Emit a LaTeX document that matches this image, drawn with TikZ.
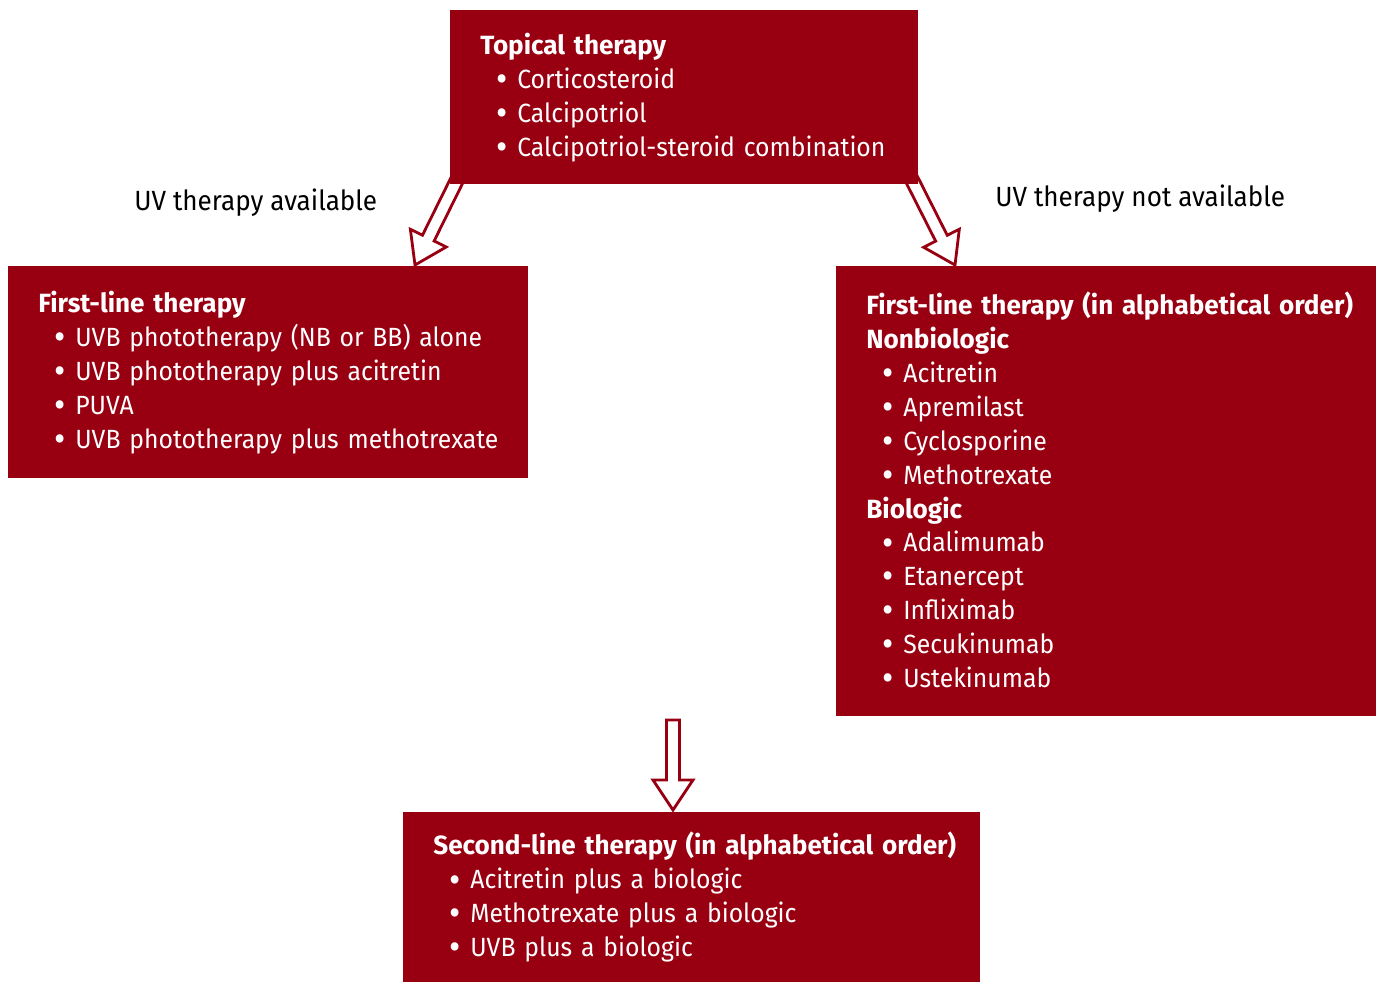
\documentclass[tikz,border=0pt]{standalone}
\usepackage{fontspec}
\setmainfont[FakeStretch=0.94, BoldFeatures={FakeStretch=0.99}]{Fira Sans}
\usetikzlibrary{positioning,calc}
\definecolor{boxred}{RGB}{152,0,18}

\newcommand{\hd}[1]{\mbox{\textbf{#1}}}
\newcommand{\itm}[1]{\hspace*{0.32cm}\makebox[0.42cm][l]{\raisebox{-0.12em}{\fontsize{21}{0}\selectfont\textbullet}}\mbox{#1}}
\newcommand{\hollowarrow}[2]{%
  \coordinate (hb) at ($(#2)!0.6cm!(#1)$);
  \draw[arrowline] ($(#1)!0.13cm!90:(#2)$) -- ($(hb)!0.13cm!-90:(#1)$)
    -- ($(hb)!0.4cm!-90:(#1)$) -- (#2) -- ($(hb)!0.4cm!90:(#1)$)
    -- ($(hb)!0.13cm!90:(#1)$) -- ($(#1)!0.13cm!-90:(#2)$) -- cycle;}

\tikzset{
  box/.style={fill=boxred, text=white, anchor=north west, align=left,
    inner xsep=0.6cm, font=\fontsize{15}{19.3}\selectfont},
  arrowline/.style={draw=boxred, fill=white, line width=1.6pt, line join=miter},
  lbl/.style={inner sep=0pt, font=\fontsize{15.8}{19.3}\selectfont}
}

\begin{document}
\begin{tikzpicture}[x=0.02cm, y=-0.02cm]
      \useasboundingbox (0,0) rectangle (1382,981);

      % Arrows
      \coordinate (ls) at (458,178);
      \coordinate (le) at (415,265);
      \coordinate (rs) at (911,178);
      \coordinate (re) at (955,265);
      \coordinate (ds) at (673,720);
      \coordinate (de) at (673,810);
      \foreach \s/\e in {ls/le, rs/re, ds/de} {\hollowarrow{\s}{\e}}

      % Nodes
      \node (top) [box, minimum width=9.36cm, minimum height=3.48cm, text width=8.16cm] at (450,10)
        {\hd{Topical therapy}\\
         \itm{Corticosteroid}\\
         \itm{Calcipotriol}\\
         \itm{Calcipotriol-steroid combination}};
      \node (uv) [box, minimum width=10.4cm, minimum height=4.24cm, text width=9.2cm] at (8,266)
        {\hd{First-line therapy}\\
         \itm{UVB phototherapy (NB or BB) alone}\\
         \itm{UVB phototherapy plus acitretin}\\
         \itm{PUVA}\\
         \itm{UVB phototherapy plus methotrexate}};
      \node (nouv) [box, minimum width=10.8cm, minimum height=9cm, text width=9.6cm] at (836,266)
        {\hd{First-line therapy (in alphabetical order)}\\
         \hd{Nonbiologic}\\
         \itm{Acitretin}\\
         \itm{Apremilast}\\
         \itm{Cyclosporine}\\
         \itm{Methotrexate}\\
         \hd{Biologic}\\
         \itm{Adalimumab}\\
         \itm{Etanercept}\\
         \itm{Infliximab}\\
         \itm{Secukinumab}\\
         \itm{Ustekinumab}};
      \node (second) [box, minimum width=11.54cm, minimum height=3.4cm, text width=10.34cm] at (403,812)
        {\hd{Second-line therapy (in alphabetical order)}\\
         \itm{Acitretin plus a biologic}\\
         \itm{Methotrexate plus a biologic}\\
         \itm{UVB plus a biologic}};

      % Labels
      \node (avail) [lbl, anchor=west] at (134,203) {UV therapy available};
      \node (notavail) [lbl, anchor=west] at (995,199) {UV therapy not available};
\end{tikzpicture}
\end{document}
